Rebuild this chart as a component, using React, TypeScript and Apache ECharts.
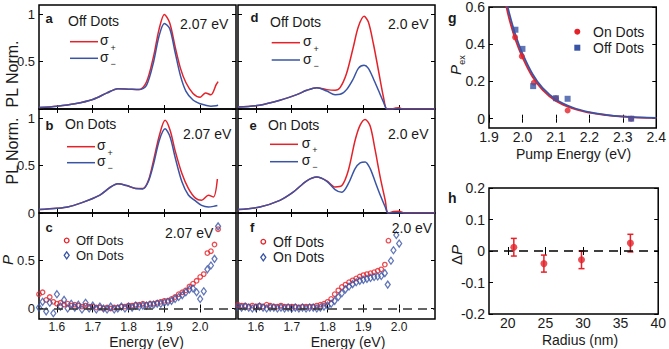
import React, { useEffect, useRef } from 'react';
import * as echarts from 'echarts';

const RED = '#e42229';
const BLUE = '#3a54a5';
const INK = '#1a1a1a';
const FONT = '"Liberation Sans", Arial, Helvetica, sans-serif';

// ---------- panel a: Off Dots, 2.07 eV ----------
const aE = [1.55, 1.6, 1.65, 1.7, 1.74, 1.77, 1.8, 1.83, 1.85, 1.87, 1.885, 1.9, 1.915, 1.93, 1.945, 1.96, 1.98, 2.0, 2.015, 2.03, 2.045, 2.05];
const aPlus = [0.015, 0.03, 0.055, 0.1, 0.17, 0.215, 0.21, 0.205, 0.285, 0.56, 0.84, 1.0, 0.91, 0.66, 0.43, 0.28, 0.165, 0.125, 0.17, 0.15, 0.26, 0.29];
const aMinus = [0.015, 0.03, 0.055, 0.1, 0.17, 0.215, 0.21, 0.205, 0.25, 0.5, 0.77, 0.905, 0.85, 0.6, 0.35, 0.19, 0.095, 0.055, 0.04, 0.03, 0.035, 0.04];

// ---------- panel b: On Dots, 2.07 eV ----------
const bE = [1.55, 1.6, 1.63, 1.67, 1.72, 1.75, 1.77, 1.795, 1.82, 1.84, 1.855, 1.87, 1.886, 1.902, 1.916, 1.93, 1.949, 1.967, 1.986, 2.004, 2.023, 2.037, 2.048];
const bPlus = [0.036, 0.05, 0.064, 0.11, 0.19, 0.275, 0.31, 0.29, 0.26, 0.26, 0.34, 0.56, 0.82, 0.98, 0.876, 0.66, 0.417, 0.26, 0.16, 0.135, 0.187, 0.17, 0.36];
const bMinus = [0.036, 0.05, 0.064, 0.11, 0.19, 0.275, 0.31, 0.29, 0.26, 0.255, 0.33, 0.52, 0.77, 0.89, 0.805, 0.59, 0.33, 0.19, 0.13, 0.08, 0.064, 0.07, 0.08];

// ---------- panel c: P, 2.07 eV ----------
const cE = [1.55, 1.56, 1.57, 1.58, 1.59, 1.6, 1.61, 1.62, 1.63, 1.64, 1.65, 1.66, 1.67, 1.68, 1.69, 1.7, 1.71, 1.72, 1.73, 1.74, 1.75, 1.76, 1.77, 1.78, 1.79, 1.8, 1.81, 1.82, 1.83, 1.84, 1.85, 1.86, 1.87, 1.88, 1.89, 1.9, 1.91, 1.92, 1.93, 1.94, 1.95, 1.96, 1.97, 1.98, 1.99, 2.0, 2.01, 2.02, 2.03, 2.04, 2.05];
const cOff = [0.15, 0.17, 0.09, 0.12, 0.07, 0.05, 0.06, 0.04, 0.05, 0.03, 0.04, 0.03, 0.02, 0.03, 0.02, 0.02, 0.01, 0.01, 0.0, 0.01, 0.0, 0.01, 0.01, 0.02, 0.02, 0.03, 0.03, 0.04, 0.04, 0.05, 0.04, 0.05, 0.05, 0.06, 0.07, 0.08, 0.08, 0.1, 0.12, 0.15, 0.17, 0.19, 0.23, 0.26, 0.29, 0.33, 0.36, 0.58, 0.6, 0.67, 0.83];
const cOn = [0.01, 0.07, -0.03, 0.06, -0.05, 0.15, 0.02, 0.09, 0.0, 0.05, 0.01, 0.04, -0.01, 0.06, 0.0, 0.03, -0.01, 0.02, 0.0, -0.01, 0.02, -0.01, 0.0, 0.02, 0.0, 0.02, 0.01, 0.03, 0.02, 0.03, 0.03, 0.04, 0.04, 0.05, 0.05, 0.06, 0.07, 0.08, 0.1, 0.12, 0.14, 0.17, 0.2, 0.21, 0.17, 0.1, 0.18, 0.41, 0.45, 0.52, 0.86];

// ---------- panel d: Off Dots, 2.0 eV ----------
const dE = [1.55, 1.61, 1.667, 1.714, 1.742, 1.77, 1.798, 1.821, 1.835, 1.853, 1.872, 1.886, 1.902, 1.914, 1.928, 1.942, 1.956, 1.966, 1.98, 1.99, 2.0, 2.01, 2.1];
const dPlus = [0.02, 0.04, 0.092, 0.152, 0.198, 0.226, 0.205, 0.198, 0.226, 0.375, 0.656, 0.87, 0.98, 0.92, 0.69, 0.41, 0.127, 0.0, 0.0, 0.01, 0.012, 0.0, 0.0];
const dMinus = [0.02, 0.04, 0.092, 0.152, 0.198, 0.226, 0.19, 0.152, 0.155, 0.205, 0.32, 0.43, 0.462, 0.43, 0.32, 0.198, 0.075, 0.0, 0.0, 0.0, 0.0, 0.0, 0.0];

// ---------- panel e: On Dots, 2.0 eV ----------
const eE = [1.55, 1.611, 1.667, 1.704, 1.742, 1.77, 1.798, 1.821, 1.84, 1.858, 1.877, 1.891, 1.905, 1.919, 1.933, 1.947, 1.961, 1.969, 1.985, 2.0, 2.015, 2.1];
const ePlus = [0.036, 0.064, 0.134, 0.22, 0.34, 0.38, 0.34, 0.275, 0.29, 0.45, 0.77, 0.93, 0.99, 0.92, 0.664, 0.38, 0.135, 0.0, 0.015, 0.018, 0.0, 0.0];
const eMinus = [0.036, 0.064, 0.134, 0.22, 0.34, 0.38, 0.335, 0.248, 0.22, 0.31, 0.47, 0.53, 0.54, 0.47, 0.33, 0.19, 0.064, 0.0, 0.0, 0.0, 0.0, 0.0];

// ---------- panel f: P, 2.0 eV ----------
const fOffE = [1.55, 1.56, 1.57, 1.58, 1.59, 1.6, 1.61, 1.62, 1.63, 1.64, 1.65, 1.66, 1.67, 1.68, 1.69, 1.7, 1.71, 1.72, 1.73, 1.74, 1.75, 1.76, 1.77, 1.78, 1.79, 1.8, 1.81, 1.82, 1.83, 1.84, 1.85, 1.86, 1.87, 1.88, 1.89, 1.9, 1.91, 1.92, 1.93, 1.94, 1.95, 1.96, 1.97];
const fOff = [0.04, 0.03, 0.03, 0.02, 0.03, 0.02, 0.03, 0.02, 0.04, 0.03, 0.02, 0.02, 0.03, 0.02, 0.02, 0.02, 0.02, 0.01, 0.02, 0.02, 0.02, 0.02, 0.03, 0.04, 0.05, 0.07, 0.1, 0.15, 0.19, 0.225, 0.25, 0.275, 0.295, 0.315, 0.335, 0.35, 0.36, 0.37, 0.38, 0.395, 0.41, 0.46, 0.71];
const fOnE = [1.55, 1.56, 1.57, 1.58, 1.59, 1.6, 1.61, 1.62, 1.63, 1.64, 1.65, 1.66, 1.67, 1.68, 1.69, 1.7, 1.71, 1.72, 1.73, 1.74, 1.75, 1.76, 1.77, 1.78, 1.79, 1.8, 1.81, 1.82, 1.83, 1.84, 1.85, 1.86, 1.87, 1.88, 1.89, 1.9, 1.91, 1.92, 1.93, 1.94, 1.95, 1.96, 1.968, 1.977, 1.984, 1.992, 2.0];
const fOn = [0.02, 0.01, 0.02, 0.01, 0.0, 0.01, 0.02, 0.01, 0.0, 0.01, 0.01, 0.0, 0.01, 0.0, 0.01, 0.0, 0.01, 0.0, 0.01, 0.0, 0.01, 0.01, 0.0, 0.01, 0.02, 0.03, 0.05, 0.08, 0.12, 0.16, 0.2, 0.23, 0.255, 0.275, 0.29, 0.3, 0.31, 0.32, 0.33, 0.335, 0.34, 0.37, 0.25, 0.5, 0.61, 0.77, 0.68];

// ---------- panel g: P_ex vs pump energy ----------
const gOnE = [1.978, 1.998, 2.034, 2.1, 2.135, 2.325];
const gOn = [0.437, 0.335, 0.193, 0.109, 0.044, 0.0];
const gOffE = [1.979, 2.0, 2.032, 2.1, 2.135, 2.325];
const gOff = [0.478, 0.375, 0.175, 0.11, 0.107, 0.0];
const gFitE = [1.95, 1.96, 1.98, 2.0, 2.03, 2.06, 2.1, 2.15, 2.2, 2.25, 2.3, 2.35, 2.4];
const gFitOn = [0.62, 0.54, 0.42, 0.33, 0.225, 0.155, 0.095, 0.055, 0.032, 0.019, 0.011, 0.006, 0.004];
const gFitOff = [0.65, 0.57, 0.445, 0.35, 0.24, 0.165, 0.103, 0.06, 0.035, 0.021, 0.012, 0.007, 0.004];

// ---------- panel h: ΔP vs radius ----------
const hR = [20.8, 24.8, 29.8, 36.3];
const hDP = [0.012, -0.04, -0.028, 0.025];
const hErr = [0.028, 0.027, 0.028, 0.028];

// tick values
const eTicks = [1.6, 1.7, 1.8, 1.9, 2.0];
const plTicks = [0, 0.5, 1];
const pTicks = [0, 0.5];
const gxTicks = [1.9, 2.0, 2.1, 2.2, 2.3, 2.4];
const gyTicks = [0, 0.2, 0.4, 0.6];
const hxTicks = [20, 25, 30, 35, 40];
const hyTicks = [-0.2, -0.1, 0, 0.1, 0.2];

const zip = (xs: number[], ys: number[]) => ys.map((y, i) => [xs[i], y]);

function buildOption() {
  const panels: any[] = [
    { grid: { left: 39, top: 5, width: 197, height: 104 }, x: [1.55, 2.1], y: [0, 1.1], xt: eTicks, yt: plTicks, xl: null, yl: [0.5, 1], fs: 13 },
    { grid: { left: 39, top: 109, width: 197, height: 104 }, x: [1.55, 2.1], y: [0, 1.1], xt: eTicks, yt: plTicks, xl: null, yl: plTicks, fs: 13 },
    { grid: { left: 39, top: 213, width: 197, height: 106 }, x: [1.55, 2.1], y: [-0.11, 1.0], xt: eTicks, yt: pTicks, xl: eTicks, yl: pTicks, fs: 13, xfs: 12 },
    { grid: { left: 238, top: 5, width: 197, height: 104 }, x: [1.55, 2.1], y: [0, 1.1], xt: eTicks, yt: plTicks, xl: null, yl: null, fs: 13 },
    { grid: { left: 238, top: 109, width: 197, height: 104 }, x: [1.55, 2.1], y: [0, 1.1], xt: eTicks, yt: plTicks, xl: null, yl: null, fs: 13 },
    { grid: { left: 238, top: 213, width: 197, height: 106 }, x: [1.55, 2.1], y: [-0.11, 1.0], xt: eTicks, yt: pTicks, xl: eTicks, yl: null, fs: 13, xfs: 12 },
    { grid: { left: 489, top: 7, width: 171, height: 121 }, x: [1.9, 2.4], y: [-0.05, 0.6], xt: gxTicks, yt: gyTicks, xl: gxTicks, yl: gyTicks, fs: 14, xfs: 14 },
    { grid: { left: 489, top: 188, width: 170, height: 126 }, x: [17.5, 40], y: [-0.2, 0.2], xt: hxTicks, yt: hyTicks, xl: hxTicks, yl: hyTicks, fs: 14, xfs: 14 },
  ];
  const grid: any[] = [];
  const xAxis: any[] = [];
  const yAxis: any[] = [];
  const xFmt = (i: number) => (v: number) => (i === 7 ? String(v) : v.toFixed(1));
  panels.forEach((p, i) => {
    grid.push({ ...p.grid, show: true, borderColor: '#000', borderWidth: 1.5, backgroundColor: 'transparent', containLabel: false });
    const tick = { show: true, inside: true, length: 4, lineStyle: { color: '#000', width: 1 } };
    const lab = (vals: any, fmt: any, margin: number, fs: number) => ({
      show: !!vals, customValues: vals || [], formatter: fmt, color: INK, fontSize: fs, fontFamily: FONT, margin,
    });
    xAxis.push({ type: 'value', gridIndex: i, min: p.x[0], max: p.x[1], position: 'bottom', axisLine: { show: false }, splitLine: { show: false },
      axisTick: { ...tick, customValues: p.xt }, axisLabel: lab(p.xl, xFmt(i), 2, p.xfs || p.fs) });
    xAxis.push({ type: 'value', gridIndex: i, min: p.x[0], max: p.x[1], position: 'top', axisLine: { show: false }, splitLine: { show: false },
      axisTick: { ...tick, customValues: p.xt }, axisLabel: { show: false } });
    yAxis.push({ type: 'value', gridIndex: i, min: p.y[0], max: p.y[1], position: 'left', axisLine: { show: false }, splitLine: { show: false },
      axisTick: { ...tick, customValues: p.yt }, axisLabel: lab(p.yl, (v: number) => String(v), 4, p.fs) });
    yAxis.push({ type: 'value', gridIndex: i, min: p.y[0], max: p.y[1], position: 'right', axisLine: { show: false }, splitLine: { show: false },
      axisTick: { ...tick, customValues: p.yt }, axisLabel: { show: false } });
  });

  const line = (i: number, xs: number[], ys: number[], color: string, width = 1.5) => ({
    type: 'line', xAxisIndex: 2 * i, yAxisIndex: 2 * i, data: zip(xs, ys), showSymbol: false, symbol: 'none',
    smooth: 0.3, lineStyle: { color, width }, itemStyle: { color }, clip: true, z: 3,
  });
  const zeroLine = (color: string) => ({
    silent: true, symbol: ['none', 'none'], label: { show: false },
    lineStyle: { color, type: [9, 6], width: 1.5 }, data: [{ yAxis: 0 }],
  });
  const openCircle = (i: number, xs: number[], ys: number[]) => ({
    type: 'scatter', xAxisIndex: 2 * i, yAxisIndex: 2 * i, data: zip(xs, ys), symbol: 'circle', symbolSize: 4.5,
    itemStyle: { color: 'rgba(255,255,255,0)', borderColor: RED, borderWidth: 1.3 }, z: 3,
  });
  const openDiamond = (i: number, xs: number[], ys: number[]) => ({
    type: 'scatter', xAxisIndex: 2 * i, yAxisIndex: 2 * i, data: zip(xs, ys), symbol: 'diamond', symbolSize: [5, 7],
    itemStyle: { color: 'rgba(255,255,255,0)', borderColor: BLUE, borderWidth: 1.3 }, z: 4,
  });

  const series: any[] = [
    line(0, aE, aPlus, RED), line(0, aE, aMinus, BLUE),
    line(1, bE, bPlus, RED), line(1, bE, bMinus, BLUE),
    { ...openCircle(2, cE, cOff), markLine: zeroLine('#333') }, openDiamond(2, cE, cOn),
    line(3, dE, dPlus, RED), line(3, dE, dMinus, BLUE),
    line(4, eE, ePlus, RED), line(4, eE, eMinus, BLUE),
    { ...openCircle(5, fOffE, fOff), markLine: zeroLine('#333') }, openDiamond(5, fOnE, fOn),
    { ...line(6, gFitE, gFitOn, RED, 1.8), smooth: 0.4 },
    { ...line(6, gFitE, gFitOff, BLUE, 1.8), smooth: 0.4 },
    { type: 'scatter', xAxisIndex: 12, yAxisIndex: 12, data: zip(gOnE, gOn), symbol: 'circle', symbolSize: 6, itemStyle: { color: RED }, z: 5 },
    { type: 'scatter', xAxisIndex: 12, yAxisIndex: 12, data: zip(gOffE, gOff), symbol: 'rect', symbolSize: 6, itemStyle: { color: BLUE }, z: 6 },
    {
      type: 'custom', xAxisIndex: 14, yAxisIndex: 14, data: hR.map((r, k) => [r, hDP[k], hErr[k]]), encode: { x: 0, y: 1 }, z: 4,
      renderItem: (_params: any, api: any) => {
        const x = api.value(0), y = api.value(1), e = api.value(2);
        const t = api.coord([x, y + e]);
        const b = api.coord([x, y - e]);
        const st = { stroke: RED, lineWidth: 1.5 };
        return {
          type: 'group', children: [
            { type: 'line', shape: { x1: t[0], y1: t[1], x2: b[0], y2: b[1] }, style: st },
            { type: 'line', shape: { x1: t[0] - 3, y1: t[1], x2: t[0] + 3, y2: t[1] }, style: st },
            { type: 'line', shape: { x1: b[0] - 3, y1: b[1], x2: b[0] + 3, y2: b[1] }, style: st },
          ],
        };
      },
      markLine: zeroLine('#000'),
    },
    { type: 'scatter', xAxisIndex: 14, yAxisIndex: 14, data: zip(hR, hDP), symbol: 'circle', symbolSize: 7, itemStyle: { color: RED }, z: 6 },
  ];

  const T = (text: string, x: number, y: number, o: any = {}, extra: any = {}) => ({
    type: 'text', x, y, z: 50, ...extra,
    style: { text, fill: INK, fontSize: 14, fontFamily: FONT, align: 'left', verticalAlign: 'middle', ...o },
  });
  const L = (x1: number, x2: number, y: number, color: string) => ({
    type: 'line', z: 50, shape: { x1, y1: y, x2, y2: y }, style: { stroke: color, lineWidth: 1.5 },
  });
  const sigmaLegend = (x1: number, x2: number, y1: number, y2: number, sx: number) => [
    L(x1, x2, y1, RED), T('σ', sx, y1 - 1.5), T('+', sx + 10.5, y1 + 6, { fontSize: 9 }),
    L(x1, x2, y2, BLUE), T('σ', sx, y2 - 1.5), T('−', sx + 10.5, y2 + 5.5, { fontSize: 9 }),
  ];
  const circ = (cx: number, cy: number) => ({ type: 'circle', z: 50, shape: { cx, cy, r: 2.3 }, style: { fill: 'none', stroke: RED, lineWidth: 1.3 } });
  const diam = (cx: number, cy: number) => ({ type: 'polygon', z: 50, shape: { points: [[cx, cy - 3.5], [cx + 2.5, cy], [cx, cy + 3.5], [cx - 2.5, cy]] }, style: { fill: 'none', stroke: BLUE, lineWidth: 1.3 } });
  const bold = { fontWeight: 'bold', fontSize: 13 };
  const rot = { rotation: Math.PI / 2 };
  const center = { align: 'center' };
  const small = { fontSize: 13 };

  const graphic: any[] = [
    // a
    T('a', 45.5, 18, bold), T('Off Dots', 68, 21), T('2.07 eV', 180, 24),
    ...sigmaLegend(70, 98, 41.7, 58.3, 100),
    // b
    T('b', 45.5, 125, bold), T('On Dots', 65, 124), T('2.07 eV', 183, 134),
    ...sigmaLegend(67, 95, 146.7, 162.7, 97),
    // c
    T('c', 45.5, 227, bold), T('2.07 eV', 165, 233),
    circ(66.7, 240.5), T('Off Dots', 76, 240.5, small), diam(66.7, 255.3), T('On Dots', 76, 255.3, small),
    // d
    T('d', 250.5, 17, bold), T('Off Dots', 270, 22), T('2.0 eV', 388, 24),
    ...sigmaLegend(271.7, 300, 42.7, 60, 303),
    // e
    T('e', 249.5, 125, bold), T('On Dots', 268, 125), T('2.0 eV', 388, 134),
    ...sigmaLegend(270, 298, 144.3, 161.7, 301.7),
    // f
    T('f', 250, 227, bold), T('2.0 eV', 391.7, 228),
    circ(263.3, 241.7), T('Off Dots', 273, 241.7), diam(263.3, 257.3), T('On Dots', 273, 257.3),
    // axis names left/middle
    T('PL Norm.', 12, 74, { ...center, fontSize: 16 }, rot),
    T('PL Norm.', 12, 151, { ...center, fontSize: 16 }, rot),
    T('P', 7, 260, { ...center, fontSize: 15, fontStyle: 'italic' }, rot),
    T('Energy (eV)', 146.5, 342.3, center),
    T('Energy (eV)', 348, 342.3, center),
    // g
    T('g', 448, 18, { fontWeight: 'bold', fontSize: 14 }),
    T('P', 455, 70, { ...center, fontSize: 15, fontStyle: 'italic' }, rot),
    T('ex', 462, 60, { ...center, fontSize: 9 }, rot),
    { type: 'circle', z: 50, shape: { cx: 577.3, cy: 31.7, r: 3 }, style: { fill: RED } },
    T('On Dots', 593, 31.7),
    { type: 'rect', z: 50, shape: { x: 574.3, y: 44.7, width: 6, height: 6 }, style: { fill: BLUE } },
    T('Off Dots', 593, 47.7),
    T('Pump Energy (eV)', 573.5, 153.5, center),
    // h
    T('h', 448, 198, { fontWeight: 'bold', fontSize: 14 }),
    {
      type: 'text', x: 456, y: 255, z: 50, rotation: Math.PI / 2,
      style: {
        text: '{d|Δ}{p|P}', align: 'center', verticalAlign: 'middle', fill: INK, fontFamily: FONT, fontSize: 15,
        rich: { d: { fontSize: 15, fontFamily: FONT, fill: INK }, p: { fontSize: 15, fontFamily: FONT, fontStyle: 'italic', fill: INK } },
      },
    },
    T('Radius (nm)', 580, 339.5, center),
  ];

  return {
    animation: false,
    backgroundColor: '#fff',
    textStyle: { fontFamily: FONT },
    grid, xAxis, yAxis, series, graphic,
  };
}

export default function App() {
  const ref = useRef<HTMLDivElement>(null);
  useEffect(() => {
    const chart = echarts.init(ref.current!, null, { renderer: 'svg' });
    chart.setOption(buildOption() as any);
    return () => chart.dispose();
  }, []);
  return <div ref={ref} style={{ position: 'fixed', left: 0, top: 0, width: 669, height: 349 }} />;
}
